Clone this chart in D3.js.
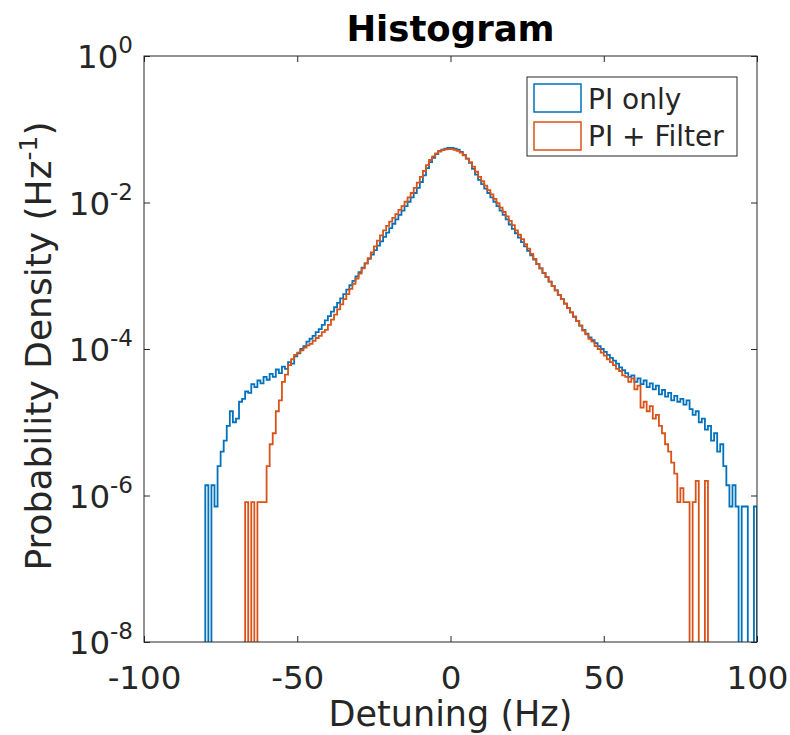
<!DOCTYPE html>
<html>
<head>
<meta charset="utf-8">
<script src="https://cdn.jsdelivr.net/npm/d3@7"></script>
<style>
  body { margin: 0; background: #fff; }
  text { font-family: 'DejaVu Sans', sans-serif; fill: #262626; }
</style>
</head>
<body>
<div id="chart-1"></div>
<script>
// histogram bins are 1 Hz wide, values are log10 of the probability density
// null = empty bin
const binWidth = 1

// PI only, first bin starts at -80 Hz
const piOnlyStart = -80
const piOnlyLog10 = [
  -5.86, null, -5.86, -6.15, -5.6, -5.4, -5.25, -5.05, -4.85, -5.0,
  -4.95, -4.72, -4.68, -4.58, -4.6, -4.48, -4.52, -4.43, -4.47, -4.38,
  -4.42, -4.34, -4.38, -4.28, -4.33, -4.24, -4.27, -4.18, -4.2, -4.1,
  -4.06, -4.0, -3.96, -3.9, -3.86, -3.82, -3.77, -3.73, -3.67, -3.61,
  -3.55, -3.49, -3.43, -3.37, -3.31, -3.25, -3.19, -3.13, -3.07, -3.01,
  -2.95, -2.89, -2.83, -2.77, -2.71, -2.65, -2.59, -2.53, -2.47, -2.41,
  -2.35, -2.29, -2.23, -2.17, -2.11, -2.05, -1.99, -1.93, -1.87, -1.8,
  -1.72, -1.63, -1.53, -1.45, -1.39, -1.34, -1.3, -1.28, -1.265, -1.255,
  -1.255, -1.265, -1.28, -1.31, -1.35, -1.4, -1.46, -1.54, -1.62, -1.69,
  -1.75, -1.81, -1.87, -1.93, -1.99, -2.05, -2.11, -2.17, -2.23, -2.3,
  -2.36, -2.42, -2.48, -2.54, -2.6, -2.66, -2.72, -2.78, -2.84, -2.9,
  -2.96, -3.02, -3.08, -3.14, -3.2, -3.26, -3.32, -3.38, -3.44, -3.5,
  -3.56, -3.62, -3.68, -3.74, -3.79, -3.84, -3.88, -3.92, -3.96, -4.0,
  -4.04, -4.08, -4.12, -4.16, -4.2, -4.25, -4.29, -4.33, -4.38, -4.36,
  -4.45, -4.4, -4.48, -4.43, -4.52, -4.47, -4.55, -4.5, -4.62, -4.56,
  -4.65, -4.6, -4.7, -4.64, -4.72, -4.68, -4.76, -4.7, -4.82, -4.9,
  -4.85, -5.0, -4.95, -5.1, -5.05, -5.25, -5.15, -5.4, -5.3, -5.6,
  -5.86, -6.15, -5.86, -6.15, null, -6.15, -6.15, null, null, -6.15
]

// PI + Filter, first bin starts at -67 Hz
const piFilterStart = -67
const piFilterLog10 = [
  -6.09, null, -6.09, null, -6.09, -6.09, -6.09, -5.6, -5.3, -5.15,
  -4.85, -4.7, -4.45, -4.35, -4.22, -4.14, -4.08, -4.05, -4.02, -3.98,
  -3.95, -3.93, -3.89, -3.85, -3.82, -3.77, -3.74, -3.67, -3.6, -3.53,
  -3.46, -3.39, -3.32, -3.25, -3.18, -3.11, -3.04, -2.97, -2.9, -2.83,
  -2.76, -2.68, -2.6, -2.52, -2.45, -2.38, -2.32, -2.26, -2.21, -2.16,
  -2.1, -2.05, -1.99, -1.93, -1.87, -1.8, -1.73, -1.65, -1.57, -1.49,
  -1.42, -1.37, -1.33, -1.3, -1.285, -1.275, -1.27, -1.27, -1.28, -1.295,
  -1.32, -1.355, -1.4, -1.45, -1.51, -1.58, -1.65, -1.71, -1.77, -1.83,
  -1.89, -1.95, -2.01, -2.07, -2.13, -2.19, -2.25, -2.31, -2.38, -2.44,
  -2.5, -2.57, -2.63, -2.7, -2.77, -2.84, -2.9, -2.96, -3.02, -3.08,
  -3.14, -3.2, -3.26, -3.32, -3.38, -3.44, -3.5, -3.56, -3.62, -3.68,
  -3.75, -3.8, -3.86, -3.9, -3.96, -4.0, -4.05, -4.09, -4.14, -4.18,
  -4.22, -4.27, -4.3, -4.36, -4.38, -4.45, -4.4, -4.55, -4.5, -4.8,
  -4.72, -4.85, -4.78, -4.95, -4.9, -5.05, -5.15, -5.3, -5.4, -5.55,
  -5.7, -6.09, -5.9, -6.09, -6.09, null, -6.09, -5.8, null, null,
  -5.8
]

const xTicks = [-100, -50, 0, 50, 100]
const yTickExps = [-8, -6, -4, -2, 0]
const seriesNames = ['PI only', 'PI + Filter']
const seriesColors = ['#0072BD', '#D95319']

const margin = { top: 56, right: 33, bottom: 93, left: 144 }
const width = 790 - margin.left - margin.right
const height = 735 - margin.top - margin.bottom

const svg = d3
  .select('#chart-1')
  .append('svg')
  .attr('width', width + margin.left + margin.right)
  .attr('height', height + margin.top + margin.bottom)
  .append('g')
  .attr('transform', 'translate(' + margin.left + ',' + margin.top + ')')

const xPositionScale = d3.scaleLinear().domain([-100, 100]).range([0, width])
const yPositionScale = d3.scaleLog().domain([1e-8, 1]).range([height, 0])

svg.append('clipPath').attr('id', 'plot-clip')
  .append('rect').attr('width', width).attr('height', height)

// turn one series into stair steps
function stairs(start, logs) {
  const pts = [[start, null]]
  logs.forEach((v, i) => {
    pts.push([start + i * binWidth, v])
    pts.push([start + (i + 1) * binWidth, v])
  })
  pts.push([start + logs.length * binWidth, null])
  return pts
}

const line = d3.line()
  .x(d => xPositionScale(d[0]))
  .y(d => d[1] === null ? height + 20 : yPositionScale(Math.pow(10, d[1])))

const series = [
  stairs(piOnlyStart, piOnlyLog10),
  stairs(piFilterStart, piFilterLog10)
]

svg.append('g')
  .attr('clip-path', 'url(#plot-clip)')
  .selectAll('path')
  .data(series)
  .enter()
  .append('path')
  .attr('d', line)
  .attr('fill', 'none')
  .attr('stroke', (d, i) => seriesColors[i])
  .attr('stroke-width', 1.8)

// axes, ticks point inward like matlab
const xAxis = d3.axisBottom(xPositionScale)
  .tickValues(xTicks)
  .tickFormat(d => String(d))
  .tickSizeInner(-6)
  .tickSizeOuter(0)
  .tickPadding(24)

svg.append('g')
  .attr('class', 'axis x-axis')
  .attr('transform', 'translate(0,' + height + ')')
  .call(xAxis)

svg.append('g')
  .attr('class', 'axis x-axis-top')
  .call(d3.axisTop(xPositionScale).tickValues(xTicks).tickSizeInner(-6).tickSizeOuter(0).tickFormat(''))

const yTickVals = yTickExps.map(e => Math.pow(10, e))

svg.append('g')
  .attr('class', 'axis y-axis')
  .call(d3.axisLeft(yPositionScale).tickValues(yTickVals).tickSizeInner(-6).tickSizeOuter(0).tickFormat(''))

svg.append('g')
  .attr('class', 'axis y-axis-right')
  .attr('transform', 'translate(' + width + ',0)')
  .call(d3.axisRight(yPositionScale).tickValues(yTickVals).tickSizeInner(-6).tickSizeOuter(0).tickFormat(''))

svg.selectAll('.axis .domain').remove()
svg.selectAll('.axis line').attr('stroke', '#262626')
svg.selectAll('.x-axis text')
  .attr('font-size', '32.5px')
  .attr('fill', '#262626')
  .style('font-family', "'DejaVu Sans', sans-serif")

// y tick labels with superscripts
yTickExps.forEach(e => {
  const t = svg.append('text')
    .attr('x', -11)
    .attr('y', yPositionScale(Math.pow(10, e)) + 12)
    .attr('text-anchor', 'end')
  t.append('tspan').attr('font-size', '32.5px').text('10')
  t.append('tspan').attr('font-size', '23px').attr('dy', -15).text(String(e))
})

// box
svg.append('rect')
  .attr('width', width)
  .attr('height', height)
  .attr('fill', 'none')
  .attr('stroke', '#262626')
  .attr('stroke-width', 1)

svg.append('text')
  .text('Histogram')
  .attr('x', width / 2)
  .attr('y', -15)
  .attr('text-anchor', 'middle')
  .attr('font-size', '35.5px')
  .attr('font-weight', 'bold')
  .style('fill', '#000')

svg.append('text')
  .text('Detuning (Hz)')
  .attr('x', width / 2)
  .attr('y', height + 84)
  .attr('text-anchor', 'middle')
  .attr('font-size', '35px')

const yLabel = svg.append('text')
  .attr('transform', 'translate(' + (-93) + ',' + (height / 2 - 3) + ') rotate(-90)')
  .attr('text-anchor', 'middle')
  .attr('font-size', '36px')
yLabel.append('tspan').text('Probability Density (Hz')
yLabel.append('tspan').attr('font-size', '25px').attr('dy', -14).text('-1')
yLabel.append('tspan').attr('dy', 14).text(')')

// legend
const legend = svg.append('g').attr('transform', 'translate(383,21)')
legend.append('rect')
  .attr('width', 210)
  .attr('height', 79)
  .attr('fill', '#fff')
  .attr('stroke', '#262626')
  .attr('stroke-width', 1)

seriesNames.forEach((name, i) => {
  legend.append('rect')
    .attr('x', 7)
    .attr('y', 7 + i * 38)
    .attr('width', 47)
    .attr('height', 28)
    .attr('fill', '#fff')
    .attr('stroke', seriesColors[i])
    .attr('stroke-width', 1.5)
  legend.append('text')
    .text(name)
    .attr('x', 61)
    .attr('y', 32 + i * 37)
    .attr('font-size', '28px')
})
</script>
</body>
</html>
